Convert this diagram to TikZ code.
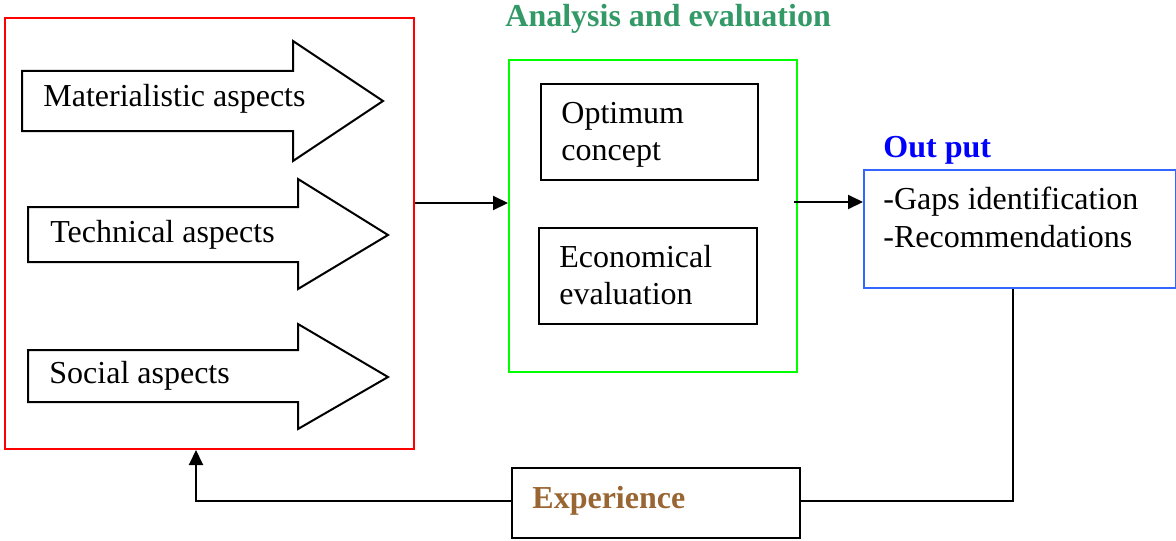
\documentclass[tikz,border=0pt]{standalone}
\usepackage{fontspec}
\setmainfont{Liberation Serif}
\usetikzlibrary{arrows.meta,calc}
\definecolor{titlegreen}{HTML}{339966}
\definecolor{expbrown}{HTML}{996633}
\definecolor{outblue}{HTML}{3366FF}
\begin{document}
\begin{tikzpicture}[x=0.5pt,y=-0.5pt,
  box/.style={draw,line width=1pt,rectangle,inner sep=0pt,anchor=north west},
  fatarrow/.style={draw,line width=1pt,fill=white,line join=miter},
  lbl/.style={anchor=base west,inner sep=0pt,font=\fontsize{16}{18}\selectfont},
  ttl/.style={anchor=base west,inner sep=0pt,font=\fontsize{16}{18}\selectfont\bfseries},
  conn/.style={line width=1pt},
  arr/.style={line width=1pt,-{Triangle[length=7.5pt,width=7pt]}}]
\useasboundingbox (0,0) rectangle (1176,540);
% red box
\node[box,draw=red,minimum width=204.5pt,minimum height=215.5pt] (red) at (4,17) {};
% fat arrows
\draw[fatarrow] (22,71) -- (293,71) -- (293,41) -- (383,101) -- (293,161) -- (293,131) -- (22,131) -- cycle;
\draw[fatarrow] (28,207) -- (298,207) -- (298,179) -- (388,235) -- (298,289) -- (298,262) -- (28,262) -- cycle;
\draw[fatarrow] (28,350) -- (298,350) -- (298,324) -- (388,377) -- (298,429) -- (298,402) -- (28,402) -- cycle;
\node[lbl] (mat) at (43,106) {Materialistic aspects};
\node[lbl] (tec) at (50,242) {Technical aspects};
\node[lbl] (soc) at (49,383) {Social aspects};
% green box
\node[ttl,text=titlegreen] (anatitle) at (505,27) {Analysis and evaluation};
\node[box,draw=green,minimum width=144pt,minimum height=156pt] (green) at (508,59) {};
\node[box,minimum width=108.5pt,minimum height=48pt] (opt) at (540,83) {};
\node[lbl] (opt1) at (561,123) {Optimum};
\node[lbl] (opt2) at (561,160) {concept};
\node[box,minimum width=109pt,minimum height=48pt] (eco) at (538,227) {};
\node[lbl] (eco1) at (559,267) {Economical};
\node[lbl] (eco2) at (559,304) {evaluation};
% output
\node[ttl,text=blue] (outtitle) at (883,157) {Out put};
\node[box,draw=outblue,minimum width=156pt,minimum height=59pt] (out) at (863,169) {};
\node[lbl] (out1) at (883,209) {-Gaps identification};
\node[lbl] (out2) at (883,247) {-Recommendations};
% experience
\node[box,minimum width=144pt,minimum height=35pt] (exp) at (511,467) {};
\node[ttl,text=expbrown] (exptxt) at (532,508) {Experience};
% connectors
\coordinate (c1) at (1013,501);
\coordinate (c2) at (196,501);
\draw[arr] (red.east |- 0,203) -- (green.west |- 0,203);
\draw[arr] ([xshift=-2pt]green.east |- 0,202) -- (out.west |- 0,202);
\draw[conn] (out.south -| c1) -- (c1) -- (exp.east |- c1);
\draw[arr] (exp.west |- c2) -- (c2) -- (c2 |- red.south);
\end{tikzpicture}
\end{document}
